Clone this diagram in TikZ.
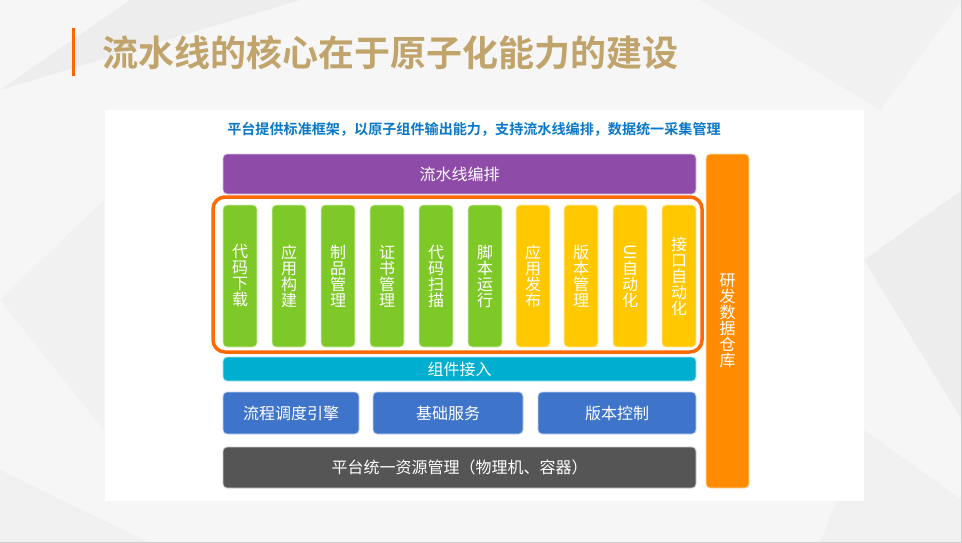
\documentclass[tikz,border=0pt]{standalone}
\usepackage{fontspec}
\setmainfont{Noto Sans CJK SC}
\newfontfamily\cjkb{Noto Sans CJK SC}[BoldFont={Noto Sans CJK SC Bold}]
\usepackage{graphicx}
\definecolor{bgc}{HTML}{F6F6F6}
\definecolor{poly}{HTML}{EDEDED}
\definecolor{titlec}{HTML}{C0A46C}
\definecolor{accent}{HTML}{FF6600}
\definecolor{subc}{HTML}{0A78C8}
\definecolor{purp}{HTML}{8E4BA8}
\definecolor{frameo}{HTML}{FF6A00}
\definecolor{grn}{HTML}{7EC828}
\definecolor{ylw}{HTML}{FFC800}
\definecolor{org}{HTML}{FF8C00}
\definecolor{cyn}{HTML}{00AED0}
\definecolor{blu}{HTML}{3E74C9}
\definecolor{drk}{HTML}{555555}
\begin{document}
\begin{tikzpicture}[x=1pt,y=-1pt,
  blk/.style={draw=white!70!#1, line width=0.8pt, fill=#1, rounded corners=4pt, inner sep=0pt, text=white,
     font=\fontsize{16}{16}\selectfont},
  col/.style={blk=#1, minimum width=34pt, minimum height=142pt, align=center},
  lbl/.style={text=white, font=\fontsize{16}{16}\selectfont, align=center, inner sep=0pt}
]
\useasboundingbox (0,0) rectangle (962,543);
% background
\fill[bgc] (0,0) rectangle (962,543);
\fill[poly] (0,90) -- (130,0) -- (300,0) -- cycle;
\fill[poly!60!bgc] (0,300) -- (104,200) -- (104,430) -- cycle;
\fill[poly] (864,260) -- (962,190) -- (962,420) -- cycle;
\fill[poly!60!bgc] (700,0) -- (962,0) -- (880,110) -- cycle;
\fill[poly!70!bgc] (0,470) -- (150,543) -- (0,543) -- cycle;
\fill[poly!70!bgc] (864,430) -- (962,500) -- (962,543) -- (820,543) -- cycle;
\draw[gray!40, line width=1pt] (961,0) -- (961,543);
\draw[gray!40, line width=1pt] (0,542) -- (962,542);
% title
\fill[accent] (72,28) rectangle (75,76);
\node[anchor=west, inner sep=0pt, text=titlec, font=\cjkb\bfseries\fontsize{36}{36}\selectfont] (title) at (102,53) {流水线的核心在于原子化能力的建设};
% white panel
\fill[white] (105,110) rectangle (864,501);
\node[inner sep=0pt, text=subc, font=\cjkb\bfseries\fontsize{14.1}{14}\selectfont] (sub) at (474,129) {平台提供标准框架，以原子组件输出能力，支持流水线编排，数据统一采集管理};
% purple
\node[blk=purp, minimum width=473pt, minimum height=40pt] (pipe) at (459.5,174) {流水线编排};
% orange frame
\node[draw=frameo, line width=3.5pt, rounded corners=12pt, minimum width=489pt, minimum height=155pt, inner sep=0pt] (frame) at (457.5,274.5) {};
% columns
\node[col=grn] (c1) at (240,276) {代\\码\\下\\载};
\node[col=grn] (c2) at (289,276) {应\\用\\构\\建};
\node[col=grn] (c3) at (338,276) {制\\品\\管\\理};
\node[col=grn] (c4) at (387,276) {证\\书\\管\\理};
\node[col=grn] (c5) at (436,276) {代\\码\\扫\\描};
\node[col=grn] (c6) at (485,276) {脚\\本\\运\\行};
\node[col=ylw] (c7) at (533,276) {应\\用\\发\\布};
\node[col=ylw] (c8) at (581,276) {版\\本\\管\\理};
\node[col=ylw] (c9) at (630,276) {\rotatebox{-90}{UI}\\自\\动\\化};
\node[col=ylw] (c10) at (679,276) {接\\口\\自\\动\\化};
% right orange column
\node[blk=org, minimum width=43pt, minimum height=334pt, align=center] (dw) at (727.5,321) {研\\发\\数\\据\\仓\\库};
% cyan
\node[blk=cyn, minimum width=473pt, minimum height=24pt] (acc) at (459.5,369) {组件接入};
% blue boxes
\node[blk=blu, minimum width=136pt, minimum height=42pt] (b1) at (291,413) {流程调度引擎};
\node[blk=blu, minimum width=150pt, minimum height=42pt] (b2) at (448,413) {基础服务};
\node[blk=blu, minimum width=158pt, minimum height=42pt] (b3) at (617,413) {版本控制};
% dark bar
\node[blk=drk, minimum width=473pt, minimum height=41pt] (res) at (459.5,467.5) {平台统一资源管理（物理机、容器）};
\end{tikzpicture}
\end{document}
